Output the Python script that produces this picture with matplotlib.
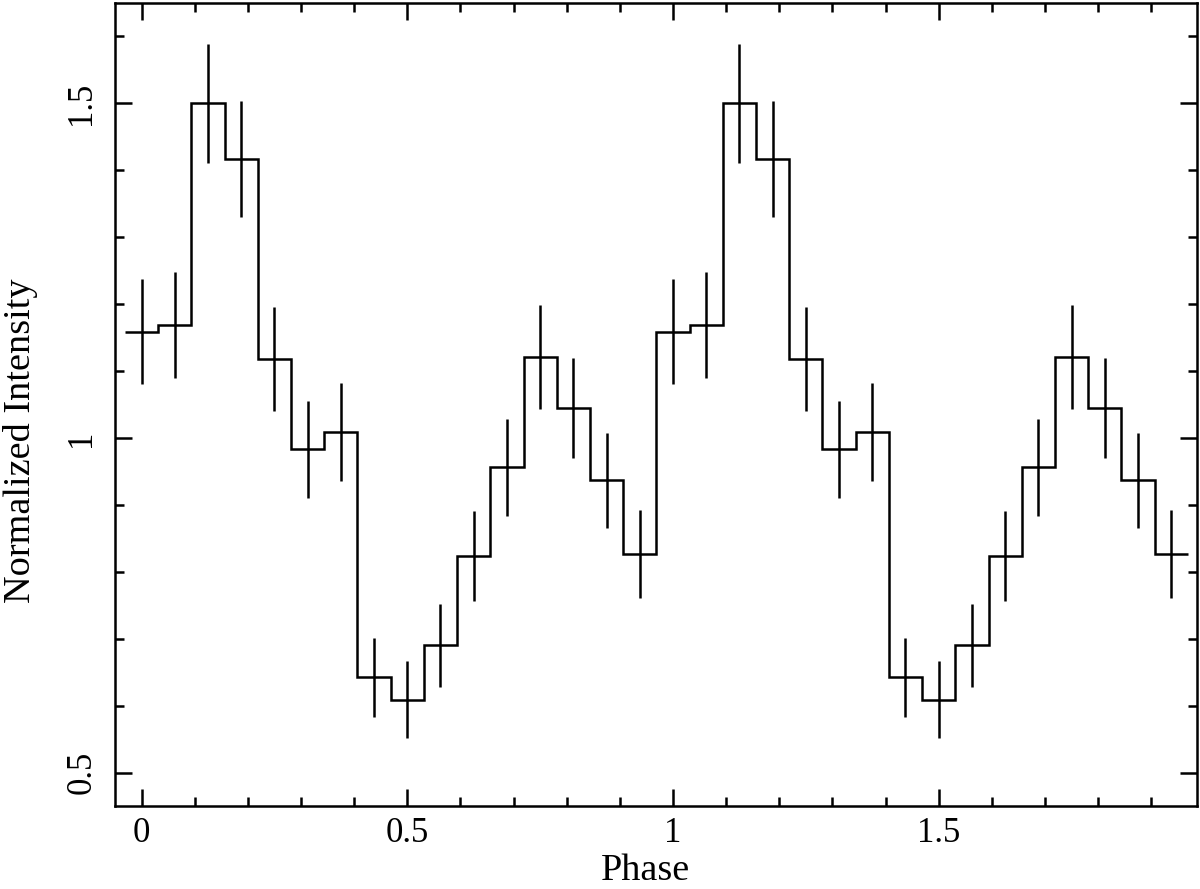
import numpy as np
import matplotlib.pyplot as plt
from matplotlib.ticker import MultipleLocator

# ---- data (one cycle, 16 phase bins, shown twice) ----
n_bins = 16
intensity = [1.159, 1.169, 1.500, 1.417, 1.118, 0.983, 1.009, 0.642,
             0.609, 0.690, 0.824, 0.956, 1.121, 1.045, 0.937, 0.827]
errors = [0.078, 0.079, 0.089, 0.087, 0.077, 0.072, 0.073, 0.059,
          0.057, 0.062, 0.067, 0.072, 0.077, 0.075, 0.071, 0.066]
n_cycles = 2

plt.rcParams['font.family'] = ['Liberation Serif', 'DejaVu Serif']
plt.rcParams['font.size'] = 25

y = np.tile(intensity, n_cycles)
yerr = np.tile(errors, n_cycles)
width = 1.0 / n_bins
phase = np.arange(n_bins * n_cycles) * width
edges = np.append(phase - width / 2, phase[-1] + width / 2)

fig = plt.figure(figsize=(12, 8.89), dpi=100)
ax = fig.add_axes([0.0958, 0.0934, 0.9017, 0.9032])

ax.stairs(y, edges, baseline=None, color='black', linewidth=1.8)
ax.errorbar(phase, y, yerr=yerr, fmt='none', ecolor='black',
            elinewidth=1.8, capsize=0)

ax.set_xlim(-0.05, 1.986)
ax.set_ylim(0.45, 1.65)

ax.xaxis.set_major_locator(MultipleLocator(0.5))
ax.xaxis.set_minor_locator(MultipleLocator(0.1))
ax.yaxis.set_major_locator(MultipleLocator(0.5))
ax.yaxis.set_minor_locator(MultipleLocator(0.1))
ax.xaxis.set_major_formatter(plt.FuncFormatter(lambda v, p: f"{v:g}"))
ax.yaxis.set_major_formatter(plt.FuncFormatter(lambda v, p: f"{v:g}"))

ax.tick_params(which='both', direction='in', top=True, right=True, width=1.8)
ax.tick_params(which='major', length=12)
ax.tick_params(which='minor', length=6.5)
ax.tick_params(axis='x', which='major', pad=8)
ax.tick_params(axis='y', which='major', pad=12)
for lbl in ax.get_yticklabels():
    lbl.set_rotation(90)
    lbl.set_va('center')

for sp in ax.spines.values():
    sp.set_linewidth(1.8)

# axis titles placed in figure coords (centred on the figure, like the original)
fig.text(645 / 1200, 1 / 889, "Phase", fontsize=27.5, ha='center', va='bottom')
fig.text(21 / 1200, 1 - 441 / 889, "Normalized Intensity", fontsize=27.5,
         rotation=90, ha='center', va='center')

fig.savefig("out.png", dpi=100)
